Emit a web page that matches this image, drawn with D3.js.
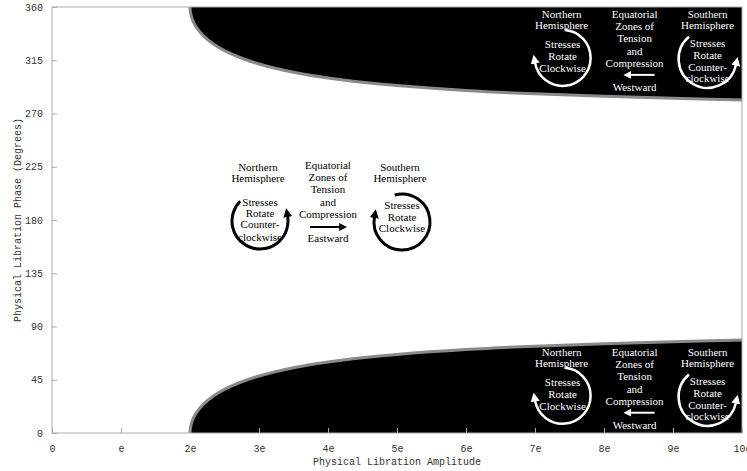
<!DOCTYPE html>
<html>
<head>
<meta charset="utf-8">
<script src="https://cdn.jsdelivr.net/npm/d3@7"></script>
<style>
  html, body { margin: 0; padding: 0; background: #fff; }
  svg { display: block; }
</style>
</head>
<body>
<div id="chart"></div>
<script>
// ---------- data ----------
const amplitude = [2, 2.005, 2.02, 2.05, 2.1, 2.2, 2.35, 2.5, 2.75, 3, 3.5, 4, 4.5, 5, 6, 7, 8, 9, 10];
const lowerPhase = [0, 4, 8, 12.7, 17.8, 24.6, 31.7, 36.9, 43.3, 48.2, 55.2, 60, 63.6, 66.4, 70.5, 73.4, 75.5, 77.2, 78.5];
const upperPhase = [360, 356, 352, 347.3, 342.2, 335.4, 328.3, 323.1, 316.7, 311.8, 304.8, 300, 296.4, 293.6, 289.5, 286.6, 284.5, 282.8, 281.5];
const xTicks = [0, 1, 2, 3, 4, 5, 6, 7, 8, 9, 10];
const xTickLabels = ["0", "e", "2e", "3e", "4e", "5e", "6e", "7e", "8e", "9e", "10e"];
const yTicks = [0, 45, 90, 135, 180, 225, 270, 315, 360];
const xTitle = "Physical Libration Amplitude";
const yTitle = "Physical Libration Phase (Degrees)";

// ---------- layout ----------
const W = 747, H = 471;
const m = { left: 52, right: 5, top: 7, bottom: 38 };
const x = d3.scaleLinear().domain([0, 10]).range([m.left, W - m.right]);
const y = d3.scaleLinear().domain([0, 360]).range([H - m.bottom, m.top]);

const svg = d3.select("#chart").append("svg").attr("width", W).attr("height", H)
  .style("background", "#fff");

const defs = svg.append("defs");
defs.append("clipPath").attr("id", "plotclip").append("rect")
  .attr("x", x(0)).attr("y", y(360)).attr("width", x(10) - x(0)).attr("height", y(0) - y(360));
function marker(id, color, size) {
  defs.append("marker").attr("id", id)
    .attr("viewBox", "0 0 10 10").attr("refX", 1).attr("refY", 5)
    .attr("markerWidth", size).attr("markerHeight", size)
    .attr("markerUnits", "userSpaceOnUse").attr("orient", "auto")
    .append("path").attr("d", "M0,0 L10,5 L0,10 Z").attr("fill", color);
}
marker("arrB", "#000", 9);
marker("arrW", "#fff", 9);
marker("arrBs", "#000", 8);
marker("arrWs", "#fff", 8);

// ---------- black regions ----------
const plot = svg.append("g").attr("clip-path", "url(#plotclip)");
const lowerPts = amplitude.map((a, i) => [a, lowerPhase[i]]);
const upperPts = amplitude.map((a, i) => [a, upperPhase[i]]);
const line = d3.line().x(d => x(d[0])).y(d => y(d[1])).curve(d3.curveCatmullRom.alpha(0.5));

function region(pts, edgePhase) {
  const curve = line(pts);
  const last = pts[pts.length - 1];
  return curve + `L${x(last[0]) + 5},${y(last[1])}L${x(last[0]) + 5},${y(edgePhase)}L${x(pts[0][0])},${y(edgePhase)}Z`;
}
plot.append("path").attr("d", region(lowerPts, 0)).attr("fill", "#000");
plot.append("path").attr("d", region(upperPts, 360)).attr("fill", "#000");
plot.append("path").attr("d", line(lowerPts)).attr("fill", "none").attr("stroke", "#8a8a8a").attr("stroke-width", 3);
plot.append("path").attr("d", line(upperPts)).attr("fill", "none").attr("stroke", "#8a8a8a").attr("stroke-width", 3);

// ---------- frame & axes ----------
svg.append("rect").attr("x", x(0)).attr("y", y(360)).attr("width", x(10) - x(0)).attr("height", y(0) - y(360))
  .attr("fill", "none").attr("stroke", "#aaa").attr("stroke-width", 1);

const xAxis = d3.axisBottom(x).tickValues(xTicks).tickFormat((d, i) => xTickLabels[i])
  .tickSizeInner(-5).tickSizeOuter(0).tickPadding(12);
const gx = svg.append("g").attr("transform", `translate(0,${y(0)})`).call(xAxis);
const yAxis = d3.axisLeft(y).tickValues(yTicks).tickFormat(d => String(d))
  .tickSizeInner(-5).tickSizeOuter(0).tickPadding(9);
const gy = svg.append("g").attr("transform", `translate(${x(0)},0)`).call(yAxis);
[gx, gy].forEach(g => {
  g.select(".domain").remove();
  g.selectAll(".tick line").attr("stroke", "#aaa");
  g.selectAll(".tick text").attr("fill", "#333")
    .style("font-family", "'Liberation Mono', 'DejaVu Sans Mono', monospace").style("font-size", "10px");
});

svg.append("text").attr("x", (x(0) + x(10)) / 2).attr("y", 461).attr("dy", "0.35em")
  .attr("text-anchor", "middle").attr("fill", "#333")
  .style("font-family", "'Liberation Mono', monospace").style("font-size", "10px").text(xTitle);
svg.append("text").attr("transform", `translate(17,${(y(0) + y(360)) / 2}) rotate(-90)`).attr("dy", "0.35em")
  .attr("text-anchor", "middle").attr("fill", "#333")
  .style("font-family", "'Liberation Mono', monospace").style("font-size", "10px").text(yTitle);

// ---------- annotations ----------
function arcPath(cx, cy, r, t0, t1, cw) {
  const rad = Math.PI / 180;
  const p = t => [cx + r * Math.sin(t * rad), cy - r * Math.cos(t * rad)];
  let span = cw ? (t1 - t0) : (t0 - t1);
  span = ((span % 360) + 360) % 360;
  const a = p(t0), b = p(t1);
  return `M${a[0]},${a[1]} A${r},${r} 0 ${span > 180 ? 1 : 0} ${cw ? 1 : 0} ${b[0]},${b[1]}`;
}
const ann = svg.append("g").style("font-family", "'Liberation Serif', 'Times New Roman', serif").style("font-size", "11px");
function lines(g, cx, ys, texts, color) {
  texts.forEach((t, i) => g.append("text").attr("x", cx).attr("y", ys[i]).attr("dy", "0.35em")
    .attr("text-anchor", "middle").attr("fill", color).text(t));
}

// middle group (white zone): anchor at amplitude 3e, phase 180
(function () {
  const ax = x(3), ay = y(180), c = "#000";
  const g = ann.append("g");
  // left circle: Northern, counter-clockwise
  g.append("path").attr("d", arcPath(ax + 1, ay + 1, 28, -45, 80, false))
    .attr("fill", "none").attr("stroke", c).attr("stroke-width", 3).attr("marker-end", "url(#arrB)");
  lines(g, ax - 1, [ay - 53, ay - 42], ["Northern", "Hemisphere"], c);
  lines(g, ax + 1, [ay - 18, ay - 7, ay + 4, ay + 17], ["Stresses", "Rotate", "Counter-", "clockwise"], c);
  // middle
  lines(g, ax + 69, [ay - 55, ay - 43, ay - 31, ay - 18, ay - 6], ["Equatorial", "Zones of", "Tension", "and", "Compression"], c);
  g.append("line").attr("x1", ax + 51).attr("x2", ax + 81).attr("y1", ay + 7).attr("y2", ay + 7)
    .attr("stroke", c).attr("stroke-width", 2).attr("marker-end", "url(#arrBs)");
  lines(g, ax + 69, [ay + 18], ["Eastward"], c);
  // right circle: Southern, clockwise
  g.append("path").attr("d", arcPath(ax + 143, ay + 2, 28, -15, -80, true))
    .attr("fill", "none").attr("stroke", c).attr("stroke-width", 3).attr("marker-end", "url(#arrB)");
  lines(g, ax + 141, [ay - 53, ay - 42], ["Southern", "Hemisphere"], c);
  lines(g, ax + 143, [ay - 15, ay - 3, ay + 8], ["Stresses", "Rotate", "Clockwise"], c);
})();

// black-zone groups: anchors at amplitude 7.4e, phases 317 and 31.5
function blackGroup(amp, ph) {
  const ax = x(amp), ay = y(ph), c = "#fff";
  const g = ann.append("g");
  g.append("path").attr("d", arcPath(ax, ay, 28, 5, -100, true))
    .attr("fill", "none").attr("stroke", c).attr("stroke-width", 2.5).attr("marker-end", "url(#arrW)");
  lines(g, ax - 1, [ay - 44, ay - 33], ["Northern", "Hemisphere"], c);
  lines(g, ax, [ay - 14, ay - 2, ay + 10], ["Stresses", "Rotate", "Clockwise"], c);
  lines(g, ax + 72, [ay - 44, ay - 32, ay - 20, ay - 7, ay + 5], ["Equatorial", "Zones of", "Tension", "and", "Compression"], c);
  g.append("line").attr("x1", ax + 92).attr("x2", ax + 68).attr("y1", ay + 17).attr("y2", ay + 17)
    .attr("stroke", c).attr("stroke-width", 2).attr("marker-end", "url(#arrWs)");
  lines(g, ax + 72, [ay + 29], ["Westward"], c);
  g.append("path").attr("d", arcPath(ax + 145, ay + 1, 29, -40, 102, false))
    .attr("fill", "none").attr("stroke", c).attr("stroke-width", 2.5).attr("marker-end", "url(#arrW)");
  lines(g, ax + 145, [ay - 44, ay - 33], ["Southern", "Hemisphere"], c);
  lines(g, ax + 145, [ay - 15, ay - 3, ay + 9, ay + 20], ["Stresses", "Rotate", "Counter-", "clockwise"], c);
}
blackGroup(7.4, 317);
blackGroup(7.4, 31.5);
</script>
</body>
</html>
